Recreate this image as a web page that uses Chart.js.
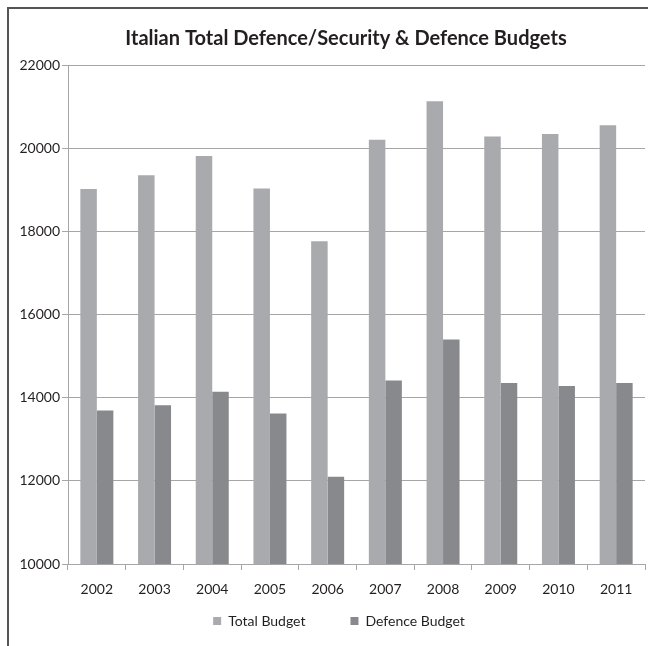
<!DOCTYPE html>
<html>
<head>
<meta charset="utf-8">
<script src="https://cdn.jsdelivr.net/npm/chart.js@4/dist/chart.umd.min.js"></script>
<style>
    html, body { margin: 0; padding: 0; background: #fff; overflow: hidden; width: 648px; height: 646px; }
    #frame {
        position: absolute; left: 7px; top: 7px;
        width: 676px; height: 650px;
        border-left: 2px solid #555; border-top: 2px solid #555;
    }
    #frame canvas { display: block; }
</style>
</head>
<body>
<div id="frame"><canvas id="budgets" width="676" height="637"></canvas></div>
<script>
// years on the x axis
const years = ["2002", "2003", "2004", "2005", "2006", "2007", "2008", "2009", "2010", "2011"];

// budgets
const totalBudget = [19020, 19350, 19810, 19030, 17760, 20200, 21130, 20280, 20340, 20550];
const defenceBudget = [13690, 13820, 14140, 13620, 12100, 14410, 15400, 14350, 14280, 14350];

const seriesNames = ["Total Budget", "Defence Budget"];
const yTicks = [10000, 12000, 14000, 16000, 18000, 20000, 22000];

const gridGrey = "#a6a6a6";
const textDark = "#231f20";
const labelFont = { family: "Lato", size: 14 };

new Chart(document.getElementById("budgets"), {
    type: "bar",
    data: {
        labels: years,
        datasets: [
            { label: seriesNames[0], data: totalBudget, backgroundColor: "#a9aaae" },
            { label: seriesNames[1], data: defenceBudget, backgroundColor: "#88898d" }
        ]
    },
    options: {
        responsive: false,
        animation: false,
        categoryPercentage: 0.572,
        barPercentage: 1.0,
        layout: { padding: { left: 0, right: 2, top: 0, bottom: 8 } },
        plugins: {
            title: {
                display: true,
                text: "Italian Total Defence/Security & Defence Budgets",
                color: textDark,
                font: { family: "Lato", size: 20, weight: "bold" },
                padding: { top: 18, bottom: 14 }
            },
            legend: {
                position: "bottom",
                labels: {
                    boxWidth: 8,
                    boxHeight: 8,
                    color: textDark,
                    padding: 10,
                    font: labelFont,
                    // wider gap between the two entries, and nudge the pair a bit left
                    generateLabels: (chart) => {
                        const items = Chart.defaults.plugins.legend.labels.generateLabels(chart);
                        items[0].text += "\u2002\u2002\u2002\u2002\u2002";
                        items[1].text += "\u2002\u2002";
                        return items;
                    }
                }
            },
            tooltip: { enabled: false }
        },
        scales: {
            x: {
                grid: { drawOnChartArea: false, drawTicks: true, tickLength: 6, color: gridGrey },
                border: { color: gridGrey },
                ticks: { color: textDark, padding: 11, font: labelFont },
                afterFit: (axis) => { axis.height = 40; }
            },
            y: {
                min: 10000,
                max: 22000,
                afterBuildTicks: (axis) => { axis.ticks = yTicks.map(v => ({ value: v })); },
                afterFit: (axis) => { axis.width = 59; },
                grid: { color: gridGrey, tickLength: 6 },
                border: { color: gridGrey },
                ticks: { color: textDark, padding: 2, font: labelFont, callback: (v) => String(v) }
            },
            // empty strip on the right, the frame runs past the picture edge
            side: {
                position: "right",
                grid: { display: false },
                border: { display: false },
                ticks: { display: false },
                afterFit: (axis) => { axis.width = 38; }
            }
        }
    }
});
</script>
</body>
</html>
